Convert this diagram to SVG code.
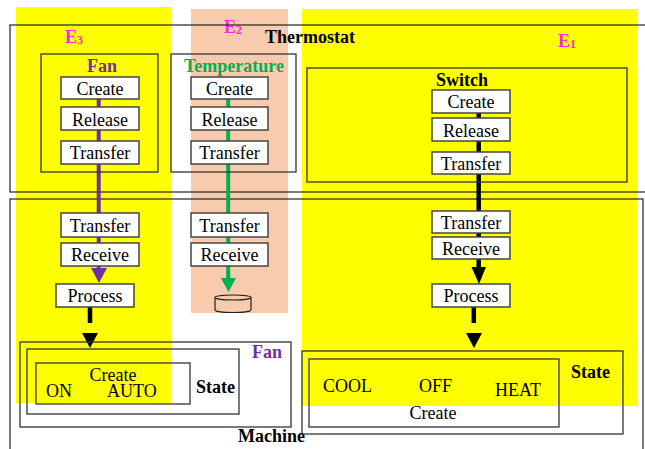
<svg xmlns="http://www.w3.org/2000/svg" width="645" height="449" viewBox="0 0 645 449" font-family="'Liberation Serif', 'Times New Roman', 'DejaVu Serif', serif">
<style>
text{font-family:'Liberation Serif','Times New Roman','DejaVu Serif',serif;font-size:18px;fill:#000}
.b{font-weight:bold}
.mid{text-anchor:middle}
.frame{fill:none;stroke:#222;stroke-width:1.2}
.box{fill:none;stroke:#333;stroke-width:1.3}
.btn{fill:#fff;stroke:#444;stroke-width:1.5}
.e{fill:#EE33CC;font-weight:bold}
.sub{font-size:12px}
</style>
<rect width="645" height="449" fill="#fff"/>
<g id="regions">
<rect x="16" y="7" width="155" height="396" fill="#FFFF00"/>
<rect x="191" y="9" width="97" height="304" fill="#F8CBAD"/>
<rect x="302" y="9" width="335" height="397" fill="#FFFF00"/>
<text class="e" x="65" y="43">E<tspan class="sub" dy="1">3</tspan></text>
<text class="e" x="224" y="33">E<tspan class="sub" dy="1">2</tspan></text>
<text class="e" x="558" y="47">E<tspan class="sub" dy="1">1</tspan></text>
</g>
<g id="thermostat">
<rect class="frame" x="10" y="25" width="650" height="167"/>
<text class="b" x="265" y="43">Thermostat</text>
</g>
<g id="machine">
<rect class="frame" x="10" y="199" width="633" height="270"/>
<text class="b" x="238" y="442">Machine</text>
</g>
<g id="connectors">
<line x1="98.7" y1="99" x2="98.7" y2="270" stroke="#7030A0" stroke-width="4"/>
<polygon points="91,268 107,268 99,283" fill="#7030A0"/>
<line x1="228.2" y1="99" x2="228.2" y2="280" stroke="#00B050" stroke-width="4"/>
<polygon points="221,278 236,278 228.5,292" fill="#00B050"/>
<line x1="90" y1="307" x2="90" y2="323" stroke="#000" stroke-width="4.5"/>
<polygon points="82,333 98,333 90,348" fill="#000"/>
<line x1="478.7" y1="112" x2="478.7" y2="269" stroke="#000" stroke-width="4.5"/>
<polygon points="471.5,267 486,267 479,284" fill="#000"/>
<line x1="473.8" y1="307" x2="473.8" y2="323" stroke="#000" stroke-width="4.5"/>
<polygon points="466,333 482,333 474,348" fill="#000"/>
</g>
<g id="fan">
<rect class="box" x="41" y="54" width="117" height="118"/>
<text class="b mid" x="102" y="72" style="fill:#7030A0">Fan</text>
<rect class="btn" x="61" y="77" width="78" height="22"/>
<text class="mid" x="100" y="95">Create</text>
<rect class="btn" x="61" y="107" width="78" height="23"/>
<text class="mid" x="100" y="126">Release</text>
<rect class="btn" x="61" y="141" width="78" height="23"/>
<text class="mid" x="100" y="159">Transfer</text>
</g>
<g id="temperature">
<rect class="box" x="171" y="54" width="125" height="118"/>
<text class="b mid" x="234" y="72" style="fill:#00B050">Temperature</text>
<rect class="btn" x="191" y="77" width="77" height="22"/>
<text class="mid" x="229.5" y="95">Create</text>
<rect class="btn" x="191" y="107" width="77" height="23"/>
<text class="mid" x="229.5" y="126">Release</text>
<rect class="btn" x="191" y="141" width="77" height="23"/>
<text class="mid" x="229.5" y="159">Transfer</text>
</g>
<g id="switch">
<rect class="box" x="307" y="68" width="320" height="114"/>
<text class="b mid" x="462" y="86">Switch</text>
<rect class="btn" x="432" y="90" width="78" height="23"/>
<text class="mid" x="471" y="108">Create</text>
<rect class="btn" x="432" y="118" width="78" height="23"/>
<text class="mid" x="471" y="137">Release</text>
<rect class="btn" x="432" y="152" width="78" height="22"/>
<text class="mid" x="471" y="170">Transfer</text>
</g>
<g id="fan-machine">
<rect class="btn" x="61" y="213" width="78" height="24"/>
<text class="mid" x="100" y="232">Transfer</text>
<rect class="btn" x="61" y="243" width="78" height="23"/>
<text class="mid" x="100" y="261">Receive</text>
<rect class="btn" x="56" y="284" width="78" height="23"/>
<text class="mid" x="95" y="302">Process</text>
</g>
<g id="temperature-machine">
<rect class="btn" x="191" y="213" width="77" height="24"/>
<text class="mid" x="229.5" y="232">Transfer</text>
<rect class="btn" x="191" y="243" width="77" height="23"/>
<text class="mid" x="229.5" y="261">Receive</text>
</g>
<g id="store">
<path d="M215,297.5 L215,310 A18,2.5 0 0 0 251,310 L251,297.5" fill="#F8CBAD" stroke="#222" stroke-width="1.2"/>
<ellipse cx="233" cy="297.5" rx="18" ry="2.5" fill="#F8CBAD" stroke="#222" stroke-width="1.2"/>
</g>
<g id="switch-machine">
<rect class="btn" x="432" y="211" width="78" height="22"/>
<text class="mid" x="471" y="229">Transfer</text>
<rect class="btn" x="432" y="237" width="78" height="22"/>
<text class="mid" x="471" y="255">Receive</text>
<rect class="btn" x="432" y="284" width="78" height="23"/>
<text class="mid" x="471" y="302">Process</text>
</g>
<g id="fan-state">
<rect class="box" x="20" y="342" width="271" height="85"/>
<text class="b mid" x="267" y="358" style="fill:#7030A0">Fan</text>
<rect class="box" x="27" y="349" width="212" height="65"/>
<text class="b" x="196" y="393">State</text>
<rect class="box" x="36" y="363" width="154" height="41"/>
<text class="mid" x="113" y="381">Create</text>
<text x="46" y="397">ON</text>
<text x="107" y="397">AUTO</text>
</g>
<g id="switch-state">
<rect class="box" x="302" y="351" width="321" height="83"/>
<text class="b" x="571" y="378">State</text>
<rect class="box" x="309" y="359" width="250" height="68"/>
<text x="323" y="392">COOL</text>
<text x="419" y="392">OFF</text>
<text x="495" y="396">HEAT</text>
<text class="mid" x="433" y="419">Create</text>
</g>
</svg>
